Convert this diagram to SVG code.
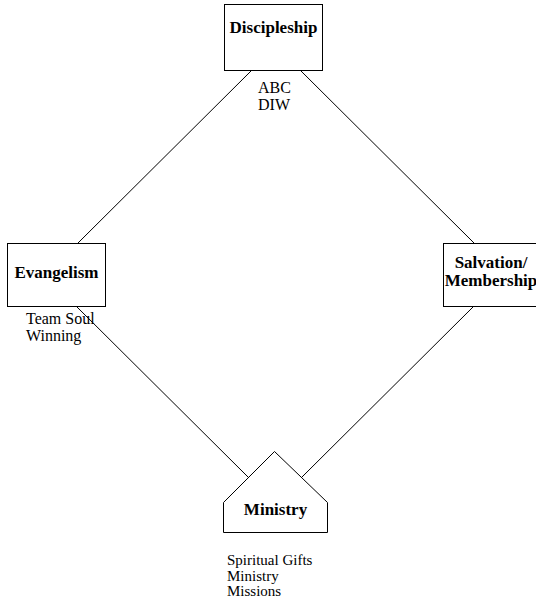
<svg xmlns="http://www.w3.org/2000/svg" width="536" height="605" viewBox="0 0 536 605">
<style>
.box{fill:#fff;stroke:#000;stroke-width:1}
.lbl{font-family:"Liberation Serif",serif;font-weight:bold;font-size:17px;fill:#000;text-anchor:middle}
.note{font-family:"Liberation Serif",serif;font-size:16px;fill:#000}
.small{font-size:15px}
.conn line{stroke:#000;stroke-width:1}
</style>
<rect width="536" height="605" fill="#fff"/>
<g class="conn" id="connectors">
<line x1="252" y1="70" x2="78" y2="243"/>
<line x1="300" y1="70" x2="474" y2="243"/>
<line x1="77" y1="307" x2="248" y2="477"/>
<line x1="474" y1="306" x2="302" y2="477"/>
</g>
<g id="discipleship">
<rect class="box" x="224.5" y="4.5" width="98" height="66"/>
<text class="lbl" x="273.5" y="33">Discipleship</text>
<text class="note" x="258" y="93">ABC</text>
<text class="note" x="258" y="110">DIW</text>
</g>
<g id="evangelism">
<rect class="box" x="7.5" y="243.5" width="98" height="63"/>
<text class="lbl" x="56.5" y="278">Evangelism</text>
<text class="note" x="26" y="324">Team Soul</text>
<text class="note" x="26" y="341">Winning</text>
</g>
<g id="salvation">
<rect class="box" x="443.5" y="243.5" width="96" height="63"/>
<text class="lbl" x="491" y="268">Salvation/</text>
<text class="lbl" x="491" y="286">Membership</text>
</g>
<g id="ministry">
<polygon class="box" points="274.5,451.5 223.5,502.5 223.5,532.5 327.5,532.5 327.5,502.5"/>
<text class="lbl" x="275.5" y="515">Ministry</text>
<text class="note small" x="227" y="565">Spiritual Gifts</text>
<text class="note small" x="227" y="580.5">Ministry</text>
<text class="note small" x="227" y="596">Missions</text>
</g>
</svg>
